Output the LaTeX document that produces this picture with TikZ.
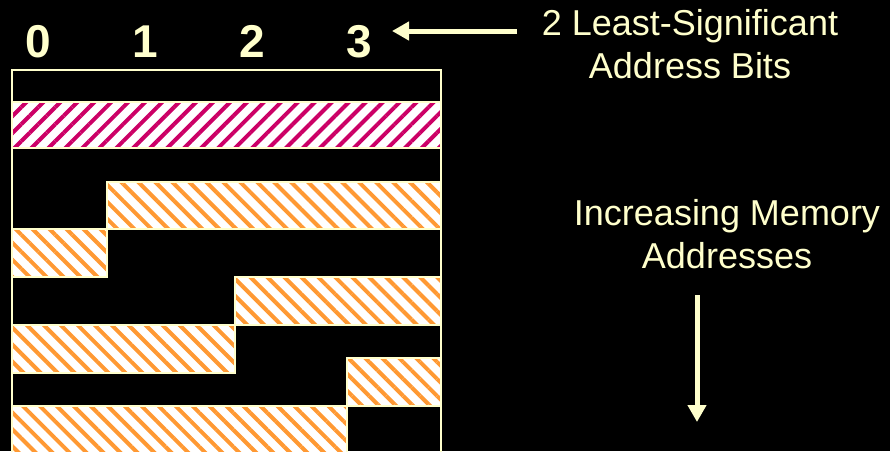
\documentclass[tikz,border=0pt]{standalone}
\usepackage{fontspec}
\setmainfont{Liberation Sans}
\usetikzlibrary{patterns.meta,arrows.meta}
\definecolor{chalk}{HTML}{FFFFCC}
\definecolor{hatchorange}{HTML}{FF9933}
\definecolor{hatchmagenta}{HTML}{CC0066}

\begin{document}
\begin{tikzpicture}[x=1pt, y=-1pt, >={Triangle[length=17pt,width=18pt]},
		bitlabel/.style={text=chalk, font=\fontsize{46}{46}\selectfont\bfseries, inner sep=0pt, anchor=base},
		caption/.style={text=chalk, font=\fontsize{36}{43}\selectfont, align=center, inner sep=0pt, anchor=base},
		pointer/.style={->, draw=chalk, line width=5pt},
		wordbox/.style={draw=chalk, line width=2pt},
		hatched/.style={draw=chalk, line width=2pt, preaction={fill=white},
			pattern={Lines[angle=#1, distance=12pt, line width=4pt]}},
		alignedbar/.style={hatched=45, pattern color=hatchmagenta},
		splitbar/.style={hatched=-45, pattern color=hatchorange}]
		\useasboundingbox[fill=black] (0,0) rectangle (890,451);
		% ---------------- byte columns ----------------
		\foreach \b/\x in {0/38, 1/145, 2/252, 3/359}
			\node[bitlabel] (bit\b) at (\x,57) {\b};
		\draw[wordbox] (12,70) rectangle (441,470);
		% aligned word
		\draw[alignedbar] (12,102) rectangle (441,148);
		% misaligned words, split over two rows
		\draw[splitbar] (107,182) rectangle (441,229);
		\draw[splitbar] (12,229) rectangle (107,277);
		\draw[splitbar] (235,277) rectangle (441,325);
		\draw[splitbar] (12,325) rectangle (235,373);
		\draw[splitbar] (347,358) rectangle (441,406);
		\draw[splitbar] (12,406) rectangle (347,470);
		% ---------------- labels ----------------
		% base anchor sits on the last line
		\node[caption] (lsb) at (690,78) {2 Least-Significant\\Address Bits};
		\coordinate (lsbtail) at (517,31);
		\coordinate (lsbtip) at (392,31);
		\draw[pointer] (lsbtail) -- (lsbtip);
		\node[caption] (addr) at (727,268) {Increasing Memory\\Addresses};
		\coordinate (addrtail) at (697,295);
		\coordinate (addrtip) at (697,422);
		\draw[pointer] (addrtail) -- (addrtip);
	\end{tikzpicture}
\end{document}
